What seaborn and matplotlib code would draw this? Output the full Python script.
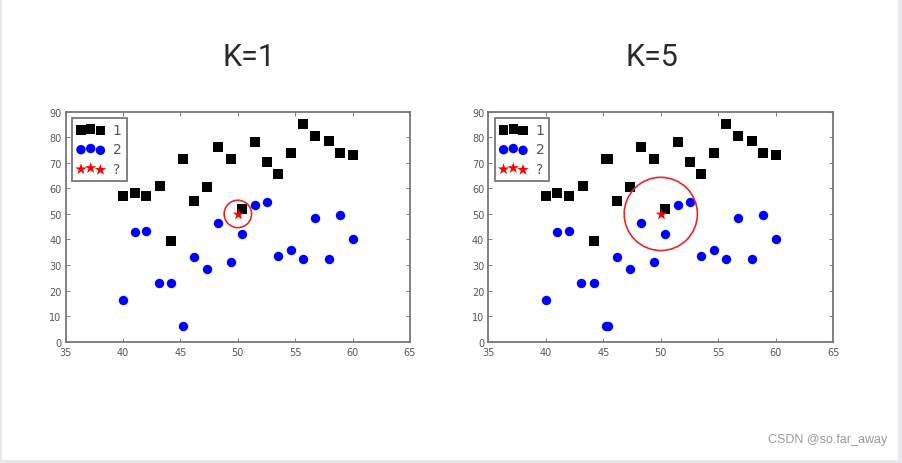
import matplotlib
matplotlib.use("Agg")
import matplotlib.pyplot as plt
import seaborn as sns
import pandas as pd
from matplotlib.patches import Rectangle

sns.set_style("white")
plt.rcParams['font.family'] = ['DejaVu Sans']

# ---- data ----
class1_x = [40.0, 41.0, 42.0, 43.2, 44.2, 45.2, 46.2, 47.3, 48.3, 49.4,
            50.4, 51.5, 52.5, 53.5, 54.6, 55.7, 56.7, 57.9, 58.9, 60.0]
class1_y = [57, 58, 57, 61, 39.5, 71.5, 55, 60.5, 76, 71.5,
            52, 78, 70.5, 65.5, 74, 85, 80.5, 78.5, 74, 73]
class2_x = [40.0, 41.0, 42.0, 43.1, 44.2, 45.2, 46.2, 47.3, 48.3, 49.4,
            50.4, 51.5, 52.5, 53.5, 54.6, 55.7, 56.7, 57.9, 58.9, 60.0]
class2_y = [16.5, 43, 43.5, 23, 23, 6, 33, 28.5, 46.5, 31,
            42, 53.5, 54.5, 33.5, 36, 32.5, 48.5, 32.5, 49.5, 40]
# extra overlapping points visible only in the K=5 panel
k5_extra1_x = [45.45]
k5_extra1_y = [71.5]
k5_extra2_x = [45.45]
k5_extra2_y = [6]
query_x = [50]
query_y = [50]
titles = ["K=1", "K=5"]
circle_sizes = [390, 2780]
tick_x = [35, 40, 45, 50, 55, 60, 65]
tick_y = [0, 10, 20, 30, 40, 50, 60, 70, 80, 90]

W, H = 903, 464
fig = plt.figure(figsize=(W / 100, H / 100), dpi=100)
fig.patch.set_facecolor("#e9e9eb")
fig.patches.append(Rectangle((2 / W, 3 / H), 896 / W, 461 / H,
                             transform=fig.transFigure, facecolor="white",
                             edgecolor="none", zorder=-10))

axes_px = [(65.7, 410.0), (488.3, 833.3)]
title_cx = [249, 652]
top, bottom = 112.7, 342.7

for i, (x0, x1) in enumerate(axes_px):
    ax = fig.add_axes([x0 / W, (H - bottom) / H, (x1 - x0) / W, (bottom - top) / H])
    ax.set_facecolor("white")
    bx = list(class1_x) + (k5_extra1_x if i == 1 else [])
    by = list(class1_y) + (k5_extra1_y if i == 1 else [])
    cx = list(class2_x) + (k5_extra2_x if i == 1 else [])
    cy = list(class2_y) + (k5_extra2_y if i == 1 else [])
    sns.scatterplot(x=bx, y=by, marker="s", color="black", s=46,
                    linewidth=0, ax=ax, label="1", zorder=3)
    sns.scatterplot(x=cx, y=cy, marker="o", color="#0000ff", s=46,
                    linewidth=0, ax=ax, label="2", zorder=3)
    sns.scatterplot(x=query_x, y=query_y, marker="*", color="red", s=75,
                    linewidth=0, ax=ax, label="?", zorder=4)
    sns.scatterplot(x=query_x, y=query_y, marker="o", s=circle_sizes[i],
                    facecolor="none", edgecolor="#e8262a", linewidth=1.2,
                    ax=ax, zorder=5, legend=False)
    ax.set_xlim(35, 65)
    ax.set_ylim(0, 90)
    ax.set_xticks(tick_x)
    ax.set_yticks(tick_y)
    ax.tick_params(direction="in", length=3, width=0.6, colors="#666666",
                   labelsize=7, labelcolor="#555555", top=True, right=True,
                   bottom=True, left=True)
    ax.tick_params(axis="x", pad=4)
    ax.tick_params(axis="y", pad=3)
    for sp in ax.spines.values():
        sp.set_visible(True)
        sp.set_color("#777777")
        sp.set_linewidth(1.3)
    leg = ax.legend(loc="upper left", scatterpoints=3,
                    scatteryoffsets=[0.375, 0.5, 0.3125], fancybox=False,
                    frameon=True, fontsize=10, handlelength=2.0,
                    handletextpad=0.6, borderpad=0.35, labelspacing=0.4,
                    borderaxespad=0.45)
    leg.get_frame().set_edgecolor("#555555")
    leg.get_frame().set_linewidth(1.3)
    for t in leg.get_texts():
        t.set_color("#555555")
    fig.text(title_cx[i] / W, (H - 66) / H, titles[i], ha="center",
             va="baseline", fontsize=22, color="#2a2a2a", fontweight="normal",
             family=["Roboto", "DejaVu Sans"])

fig.text(887 / W, (H - 443) / H, "CSDN @so.far_away", ha="right",
         va="baseline", fontsize=9, color="#999999",
         family=["Liberation Sans", "DejaVu Sans"])

fig.savefig("out.png", dpi=100, facecolor=fig.get_facecolor())
